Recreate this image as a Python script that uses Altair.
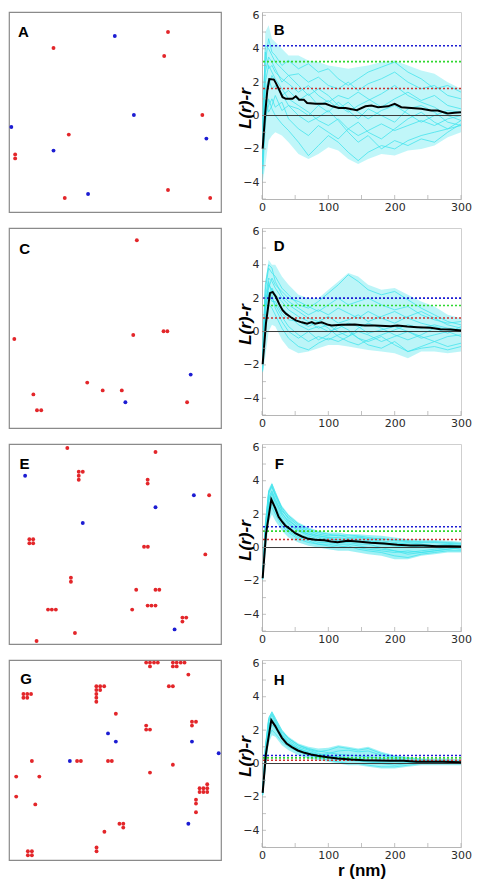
import altair as alt
import pandas as pd

# ---------------- colours ----------------
RED = "#e3262a"
BLUE = "#1c1cd2"
CYAN = "#3fe3ec"

# ---------------- point patterns (percent of field) ----------------
A_red_x = [75.0, 21.0, 73.2, 91.2, 28.2, 2.9, 2.9, 75.0, 26.3, 94.9]
A_red_y = [90.0, 82.0, 78.0, 48.5, 38.7, 28.8, 26.8, 11.0, 7.0, 7.0]
A_blue_x = [49.9, 58.9, 1.1, 93.1, 21.0, 37.3]
A_blue_y = [88.0, 48.5, 42.5, 36.7, 30.7, 9.0]

C_red_x = [60.3, 2.5, 58.6, 72.9, 74.7, 36.9, 11.5, 44.2, 53.2, 13.2, 15.2, 84.0]
C_red_y = [93.9, 44.5, 46.5, 48.4, 48.4, 22.7, 16.8, 18.8, 18.8, 8.9, 8.9, 12.9]
C_blue_x = [85.7, 54.9]
C_blue_y = [26.7, 12.9]

E_red_x = [27.5, 69.1, 32.9, 34.8, 32.9, 32.9, 65.4, 65.4, 94.4, 9.6, 11.4, 9.6, 11.4,
           63.7, 65.5, 92.6, 29.2, 29.2, 60.0, 69.1, 70.9, 18.4, 20.2, 22.1, 65.4, 67.2,
           69.1, 58.1, 81.8, 83.6, 81.8, 31.1, 13.0]
E_red_y = [98.0, 96.0, 86.1, 86.1, 84.1, 82.1, 82.1, 80.2, 74.4, 52.4, 52.4, 50.4, 50.4,
           48.6, 48.6, 44.8, 33.1, 31.1, 27.1, 27.1, 27.1, 17.2, 17.2, 17.2, 19.2, 19.2,
           19.2, 17.2, 13.2, 13.2, 11.2, 5.5, 1.5]
E_blue_x = [7.6, 87.2, 69.1, 34.8, 78.1]
E_blue_y = [84.1, 74.4, 68.4, 60.5, 7.3]

G_red_x = [64.7, 66.5, 68.4, 70.2, 66.5, 77.3, 79.1, 81.0, 82.8, 77.3, 79.1, 84.6,
           41.2, 43.0, 44.9, 41.2, 43.0, 41.2, 41.2, 41.2, 75.4, 77.3, 6.8, 8.6, 10.4,
           6.8, 8.6, 50.4, 86.3, 88.2, 86.3, 64.7, 64.7, 66.5, 10.8, 32.1, 33.9, 46.7,
           48.5, 77.3, 66.5, 3.4, 14.3, 93.5, 89.9, 91.7, 93.5, 89.9, 91.7, 93.5, 3.4,
           88.2, 88.2, 12.4, 88.2, 52.1, 53.9, 53.9, 45.0, 41.3, 41.3, 8.9, 10.8, 8.9, 10.8]
G_red_y = [98.7, 98.7, 98.7, 98.7, 96.8, 98.7, 98.7, 98.7, 98.7, 96.8, 96.8, 92.7,
           86.9, 86.9, 86.9, 85.0, 85.0, 83.0, 81.1, 79.1, 86.9, 86.9, 83.0, 83.0, 83.0,
           81.1, 81.1, 73.1, 69.1, 69.1, 67.2, 67.2, 65.2, 65.2, 49.5, 49.5, 49.5, 49.5,
           49.5, 47.6, 43.7, 41.7, 41.7, 37.9, 35.9, 35.9, 35.9, 34.0, 34.0, 34.0, 31.7,
           30.1, 28.2, 27.8, 23.9, 18.1, 18.1, 16.2, 14.1, 6.3, 4.4, 4.4, 4.4, 2.4, 2.4]
G_blue_x = [46.7, 50.4, 86.3, 98.9, 28.7, 84.6]
G_blue_y = [63.3, 59.2, 59.2, 53.4, 49.5, 18.1]

# panel letter positions (percent of field)
LEFT_LETTERS = ["A", "C", "E", "G"]
LEFT_LETTER_X = [6.8, 7.4, 7.3, 8.0]
LEFT_LETTER_Y = [89.8, 89.3, 89.9, 90.6]

# ---------------- L(r)-r curves ----------------
R = [1, 5, 10, 15, 20, 30, 40, 55, 70, 85, 100, 115, 130, 145, 160, 180, 200, 220, 240, 260, 280, 300]

# B
B_sims = [
    [-1.0, 4.2, 4.0, 3.6, 3.2, 2.8, 2.4, 2.5, 2.0, 2.3, 1.8, 1.6, 2.0, 1.5, 1.9, 2.2, 2.6, 2.0, 1.6, 1.8, 1.2, 1.0],
    [-2.5, 2.0, 3.0, 2.6, 2.2, 1.6, 1.0, 0.6, 0.2, -0.3, -0.6, -0.2, -0.8, -1.2, -0.9, -0.5, -0.9, -0.6, -0.3, -0.6, -0.2, 0.0],
    [-1.5, 3.2, 4.6, 3.8, 3.6, 3.0, 3.3, 2.8, 3.1, 2.6, 2.8, 2.2, 1.8, 2.2, 2.6, 2.9, 3.2, 2.6, 2.2, 1.6, 1.8, 1.4],
    [-3.5, -0.5, 1.0, 0.4, 0.0, -0.5, -0.9, -1.6, -2.4, -1.8, -1.2, -1.6, -2.2, -2.7, -2.2, -1.8, -2.0, -1.5, -1.2, -1.0, -0.8, -0.6],
    [-2.0, 1.5, 2.2, 1.6, 1.8, 1.2, 1.5, 0.9, 1.3, 0.6, 0.9, 0.4, 0.8, 0.2, -0.2, 0.3, 0.6, 0.1, -0.4, 0.0, 0.3, 0.2],
    [-3.0, 0.8, 1.8, 2.4, 2.0, 1.3, 0.6, 0.0, -0.4, -0.1, 0.3, -0.3, -1.0, -1.6, -1.2, -2.0, -1.5, -1.8, -1.4, -1.6, -1.0, -0.5],
    [-0.5, 3.8, 2.8, 3.0, 2.6, 2.2, 1.9, 1.4, 1.8, 1.2, 0.8, 1.2, 1.0, 1.4, 1.0, 0.5, 1.0, 1.4, 0.9, 1.2, 0.6, 0.4],
    [-2.8, 0.0, 0.6, 1.0, 0.5, 0.8, -0.2, -0.8, -1.2, -0.6, -1.0, -1.4, -0.8, -0.4, -1.0, -1.4, -0.8, -0.2, 0.2, -0.4, -0.8, -0.3],
    [-1.8, 2.6, 3.5, 3.2, 2.8, 2.0, 2.4, 1.8, 1.2, 1.6, 1.2, 0.6, 0.2, 0.6, 0.9, 1.3, 1.8, 1.2, 0.8, 0.5, 0.0, -0.3],
    [-3.2, 1.0, 0.2, 0.6, 1.2, 0.3, 0.6, 0.4, 0.0, 0.6, 0.2, 0.8, 0.3, -0.2, 0.4, 0.0, -0.4, 0.4, 0.6, 0.2, -0.4, -0.6],
]
B_upper = [0.5, 5.0, 5.4, 4.6, 4.4, 4.0, 3.6, 3.6, 3.3, 3.2, 3.0, 2.9, 2.8, 2.9, 3.0, 3.2, 3.3, 3.0, 2.7, 2.5, 2.0, 1.6]
B_lower = [-4.0, -3.0, -1.5, -1.2, -1.0, -1.2, -1.6, -2.3, -2.6, -2.3, -1.9, -2.1, -2.6, -2.9, -2.6, -2.3, -2.4, -2.1, -2.0, -1.8, -1.3, -1.0]
B_mean_r = [1, 5, 8, 11, 18, 21, 26, 31, 36, 46, 51, 56, 63, 68, 81, 96, 106, 116, 126, 143, 156, 165, 175, 190, 200, 210, 225, 240, 255, 265, 280, 290, 300]
B_mean_v = [-2.0, 0.2, 1.5, 2.18, 2.15, 1.94, 1.54, 1.1, 1.0, 1.0, 1.15, 0.95, 0.95, 0.75, 0.7, 0.7, 0.55, 0.45, 0.45, 0.32, 0.55, 0.6, 0.5, 0.55, 0.7, 0.5, 0.45, 0.4, 0.3, 0.3, 0.12, 0.16, 0.2]
B_thresholds = [4.18, 3.23, 1.62]

# D
D_sims = [
    [-1.5, 2.5, 3.8, 3.5, 3.3, 2.6, 2.2, 1.6, 1.4, 1.8, 2.3, 2.8, 3.4, 3.0, 2.5, 2.2, 2.4, 1.9, 1.4, 1.0, 0.6, 0.4],
    [-2.2, 1.2, 2.4, 2.0, 1.6, 0.9, 0.3, -0.2, -0.6, -0.3, -0.5, -0.2, 0.0, -0.4, -0.6, -0.3, -0.8, -1.2, -0.9, -0.6, -0.3, -0.2],
    [-1.8, 2.0, 3.2, 3.0, 2.6, 2.0, 1.6, 1.2, 0.8, 0.6, 0.9, 0.5, 0.7, 1.0, 0.6, 0.9, 1.2, 0.8, 0.5, 0.3, 0.1, 0.0],
    [-2.4, 0.8, 1.6, 1.4, 1.0, 0.2, -0.4, -0.9, -1.1, -0.7, -0.4, -0.6, -0.3, 0.0, -0.2, -0.6, -0.3, 0.0, -0.3, -0.6, -0.9, -0.7],
    [-1.2, 2.8, 4.0, 3.8, 3.0, 2.2, 1.8, 1.4, 1.0, 1.3, 1.0, 1.4, 1.1, 0.8, 1.2, 0.8, 0.5, 0.9, 1.2, 0.8, 0.4, 0.2],
    [-2.0, 1.6, 2.8, 2.5, 2.0, 1.4, 1.0, 0.4, 0.1, 0.3, 0.0, 0.2, 0.5, 0.3, -0.1, 0.1, 0.3, 0.0, -0.4, -0.2, 0.0, -0.3],
    [-1.6, 2.2, 2.0, 2.6, 2.2, 1.8, 1.3, 0.9, 0.6, 0.2, 0.4, 0.0, -0.3, 0.2, 0.5, 0.2, -0.2, -0.5, -0.2, 0.2, -0.1, 0.3],
    [-2.3, 1.0, 3.0, 2.2, 1.4, 0.6, 0.0, -0.4, 0.0, -0.5, -0.2, 0.4, 0.1, -0.4, -0.8, -1.0, -0.6, -1.2, -1.0, -0.9, -1.1, -0.9],
    [-1.9, 1.8, 2.6, 3.2, 2.8, 2.4, 2.0, 1.8, 1.5, 1.2, 1.6, 2.0, 1.6, 1.8, 2.0, 1.6, 1.3, 1.5, 1.0, 0.7, 0.5, 0.6],
    [-2.1, 1.4, 2.2, 1.8, 1.8, 1.1, 0.7, 0.6, 0.3, 0.6, 0.2, -0.3, -0.6, -0.8, -0.5, -0.2, 0.1, 0.4, 0.2, 0.4, 0.2, 0.1],
]
D_upper = [0.0, 3.0, 4.3, 4.0, 4.0, 3.3, 2.8, 2.2, 2.0, 2.0, 2.5, 3.0, 3.5, 3.3, 2.8, 2.5, 2.6, 2.2, 1.8, 1.5, 1.0, 0.8]
D_lower = [-2.5, -1.5, 0.0, 0.4, 0.3, -0.5, -1.0, -1.3, -1.2, -1.0, -0.8, -0.8, -0.9, -1.0, -1.1, -1.2, -1.3, -1.6, -1.2, -1.2, -1.3, -1.2]
D_mean_r = [1, 6, 12, 16, 21, 26, 31, 36, 43, 51, 60, 68, 75, 80, 90, 100, 105, 120, 140, 155, 170, 194, 204, 219, 234, 254, 269, 284, 300]
D_mean_v = [-1.96, 0.5, 2.3, 2.37, 2.08, 1.64, 1.28, 1.07, 0.87, 0.67, 0.55, 0.47, 0.57, 0.47, 0.55, 0.4, 0.36, 0.4, 0.42, 0.36, 0.36, 0.32, 0.36, 0.3, 0.26, 0.22, 0.14, 0.12, 0.06]
D_thresholds = [2.0, 1.56, 0.81]

# F
F_sims = [
    [-1.7, 1.2, 3.2, 3.7, 3.1, 2.2, 1.8, 1.3, 1.0, 0.8, 0.7, 0.75, 0.6, 0.65, 0.5, 0.55, 0.4, 0.35, 0.3, 0.35, 0.3, 0.25],
    [-1.9, 0.2, 2.2, 2.4, 2.0, 1.3, 0.9, 0.5, 0.3, 0.2, 0.1, 0.0, 0.1, -0.1, -0.2, -0.3, -0.5, -0.6, -0.4, -0.3, -0.2, -0.2],
    [-1.8, 0.8, 2.8, 3.2, 2.7, 1.9, 1.4, 1.0, 0.7, 0.5, 0.5, 0.4, 0.5, 0.4, 0.3, 0.2, 0.1, 0.0, 0.1, 0.0, 0.1, 0.0],
    [-1.6, 1.4, 3.4, 3.6, 3.2, 2.4, 1.9, 1.4, 1.1, 0.9, 0.8, 0.7, 0.75, 0.7, 0.6, 0.5, 0.45, 0.4, 0.35, 0.3, 0.25, 0.2],
    [-1.9, 0.5, 2.5, 2.9, 2.3, 1.6, 1.1, 0.7, 0.5, 0.3, 0.3, 0.2, 0.2, 0.1, 0.0, -0.1, -0.2, -0.3, -0.2, -0.1, 0.0, -0.1],
    [-1.8, 1.0, 3.0, 3.4, 2.9, 2.0, 1.6, 1.2, 0.9, 0.7, 0.6, 0.6, 0.5, 0.6, 0.5, 0.4, 0.3, 0.2, 0.2, 0.1, 0.2, 0.1],
    [-1.7, 0.6, 2.6, 3.0, 2.5, 1.7, 1.2, 0.8, 0.6, 0.4, 0.4, 0.3, 0.3, 0.2, 0.2, 0.0, -0.2, -0.4, -0.3, -0.2, -0.1, 0.0],
    [-1.9, 1.3, 3.3, 3.8, 3.3, 2.3, 1.7, 1.1, 0.8, 0.6, 0.5, 0.5, 0.4, 0.3, 0.4, 0.3, 0.2, 0.1, 0.0, 0.1, 0.0, 0.05],
    [-1.8, 0.3, 2.0, 2.6, 2.2, 1.5, 1.0, 0.6, 0.4, 0.2, 0.2, 0.1, 0.0, 0.0, -0.1, -0.2, -0.3, -0.2, -0.3, -0.2, -0.1, 0.0],
    [-1.8, 0.9, 2.9, 3.3, 2.8, 2.1, 1.5, 1.0, 0.8, 0.7, 0.6, 0.4, 0.4, 0.5, 0.4, 0.3, 0.2, 0.3, 0.2, 0.1, 0.15, 0.1],
]
F_upper = [-1.5, 1.5, 3.5, 3.9, 3.4, 2.5, 2.0, 1.5, 1.2, 1.0, 0.9, 0.9, 0.8, 0.8, 0.75, 0.7, 0.6, 0.5, 0.5, 0.45, 0.4, 0.35]
F_lower = [-2.0, -0.5, 1.5, 2.0, 1.6, 1.0, 0.6, 0.3, 0.1, 0.0, -0.1, -0.2, -0.2, -0.3, -0.4, -0.5, -0.7, -0.7, -0.5, -0.4, -0.3, -0.3]
F_mean_r = [1, 6, 14, 20, 25, 30, 35, 42, 50, 60, 70, 80, 94, 104, 114, 129, 144, 164, 184, 204, 224, 243, 263, 283, 300]
F_mean_v = [-1.84, 0.8, 2.88, 2.36, 1.84, 1.56, 1.32, 1.12, 0.86, 0.66, 0.52, 0.46, 0.44, 0.36, 0.32, 0.4, 0.36, 0.28, 0.24, 0.16, 0.12, 0.12, 0.08, 0.08, 0.06]
F_thresholds = [1.24, 0.98, 0.48]

# H
H_sims = [
    [-1.6, 0.9, 2.6, 3.0, 2.6, 1.9, 1.5, 1.1, 0.85, 0.7, 0.8, 1.0, 0.9, 0.8, 0.9, 0.6, 0.4, 0.3, 0.25, 0.2, 0.2, 0.15],
    [-1.9, -0.2, 1.6, 2.0, 1.8, 1.3, 1.0, 0.7, 0.5, 0.35, 0.2, 0.1, 0.0, 0.0, -0.1, -0.2, -0.2, -0.1, 0.0, 0.0, 0.0, 0.0],
    [-1.7, 0.6, 2.3, 2.7, 2.4, 1.7, 1.3, 0.9, 0.7, 0.55, 0.45, 0.4, 0.35, 0.3, 0.25, 0.2, 0.15, 0.15, 0.1, 0.1, 0.1, 0.1],
    [-1.8, 0.4, 2.0, 2.5, 2.2, 1.6, 1.2, 0.85, 0.6, 0.5, 0.6, 0.75, 0.8, 0.7, 0.75, 0.5, 0.3, 0.2, 0.15, 0.1, 0.1, 0.05],
    [-1.7, 0.8, 2.5, 2.9, 2.5, 1.8, 1.4, 1.0, 0.8, 0.6, 0.5, 0.4, 0.3, 0.2, 0.1, 0.0, -0.1, 0.0, 0.05, 0.0, 0.05, 0.0],
    [-1.9, 0.1, 1.9, 2.3, 2.1, 1.5, 1.1, 0.8, 0.55, 0.4, 0.3, 0.25, 0.2, 0.15, 0.1, 0.05, 0.0, 0.05, 0.1, 0.05, 0.0, 0.0],
    [-1.6, 1.0, 2.7, 3.1, 2.7, 2.0, 1.5, 1.1, 0.9, 0.75, 0.65, 0.55, 0.5, 0.45, 0.4, 0.3, 0.25, 0.2, 0.2, 0.15, 0.15, 0.1],
    [-1.8, 0.5, 2.2, 2.6, 2.3, 1.7, 1.2, 0.9, 0.65, 0.5, 0.4, 0.35, 0.3, 0.2, 0.2, 0.1, 0.1, 0.1, 0.0, 0.05, 0.1, 0.05],
]
H_upper = [-1.3, 1.2, 2.8, 3.1, 2.8, 2.0, 1.6, 1.2, 1.0, 0.9, 0.95, 1.1, 1.0, 0.9, 1.0, 0.7, 0.5, 0.4, 0.3, 0.3, 0.3, 0.25]
H_lower = [-2.0, -0.5, 1.2, 1.7, 1.6, 1.1, 0.8, 0.5, 0.3, 0.2, 0.1, 0.0, -0.1, -0.1, -0.2, -0.3, -0.3, -0.2, -0.1, -0.1, -0.1, -0.1]
H_mean_r = [1, 6, 14, 20, 25, 30, 37, 45, 54, 64, 74, 84, 99, 114, 134, 153, 173, 193, 213, 233, 252, 272, 300]
H_mean_v = [-1.76, 0.6, 2.6, 2.24, 1.88, 1.54, 1.2, 0.98, 0.78, 0.64, 0.54, 0.46, 0.38, 0.3, 0.24, 0.2, 0.18, 0.16, 0.16, 0.1, 0.1, 0.1, 0.08]
H_thresholds = [0.48, 0.34, 0.2]

RIGHT_LETTERS = ["B", "D", "F", "H"]
RIGHT_LETTER_R = [26, 26, 26, 26]
RIGHT_LETTER_V = [5.1, 5.1, 5.0, 5.0]

THRESH_COLORS = [BLUE, "#2fd82f", "#cc3030"]
X_LABELS = [0, 100, 200, 300]
Y_LABELS = [-4, -2, 0, 2, 4, 6]
X_MINOR = [0, 50, 100, 150, 200, 250, 300]
Y_MINOR = [-5, -4, -3, -2, -1, 0, 1, 2, 3, 4, 5, 6]

BOX_W, BOX_H = 212, 200
PLOT_W, PLOT_H = 199, 187


def field_panel(letter, lx, ly, rx, ry, bx, by):
    xs = alt.Scale(domain=[0, 100], nice=False, zero=False)
    ys = alt.Scale(domain=[0, 100], nice=False, zero=False)
    red = alt.Chart(pd.DataFrame({"x": rx, "y": ry})).mark_circle(
        size=15, opacity=1, color=RED).encode(
        x=alt.X("x:Q", scale=xs, axis=None), y=alt.Y("y:Q", scale=ys, axis=None))
    blue = alt.Chart(pd.DataFrame({"x": bx, "y": by})).mark_circle(
        size=15, opacity=1, color=BLUE).encode(
        x=alt.X("x:Q", scale=xs, axis=None), y=alt.Y("y:Q", scale=ys, axis=None))
    txt = alt.Chart(pd.DataFrame({"x": [lx], "y": [ly], "t": [letter]})).mark_text(
        font="Liberation Sans", fontSize=15, fontWeight="bold", color="black").encode(
        x=alt.X("x:Q", scale=xs, axis=None), y=alt.Y("y:Q", scale=ys, axis=None), text="t:N")
    return alt.layer(red, blue, txt).properties(
        width=BOX_W, height=BOX_H,
        view=alt.ViewBackground(stroke="#8a8a8a", strokeWidth=1.2))


def curve_panel(letter, lr, lv, sims, upper, lower, mr, mv, thr, xtitle, band_opacity):
    xs = alt.Scale(domain=[0, 300], nice=False, zero=False)
    ys = alt.Scale(domain=[-5, 6.2], nice=False, zero=False)
    xaxis_kw = dict(values=X_LABELS, labelPadding=2, labelFlush=False, grid=False,
                    ticks=False, domainColor="#b5b5b5", labelFont="DejaVu Sans",
                    labelFontSize=11, labelColor="#2a2a2a")
    if xtitle:
        xaxis = alt.Axis(title=xtitle, titleFont="Liberation Sans", titleFontSize=17,
                         titleFontWeight="bold", titleColor="black", titlePadding=2,
                         **xaxis_kw)
    else:
        xaxis = alt.Axis(title=None, **xaxis_kw)
    yaxis = alt.Axis(values=Y_LABELS, title="L(r)-r", titleFont="Liberation Sans",
                     titleFontSize=17, titleFontWeight="bold", titleFontStyle="italic",
                     titleColor="black", titleX=-12, titleY=96, titleAngle=270,
                     titleAlign="center", titleBaseline="alphabetic", labelFlush=False,
                     labelPadding=3, grid=False, ticks=False, domainColor="#b5b5b5",
                     labelFont="DejaVu Sans", labelFontSize=11, labelColor="#2a2a2a")

    def X(f):
        return alt.X(f, scale=xs, axis=xaxis)

    def Y(f):
        return alt.Y(f, scale=ys, axis=yaxis)

    env = pd.DataFrame({"r": R, "lo": lower, "hi": upper})
    area = alt.Chart(env).mark_area(color=CYAN, opacity=band_opacity).encode(
        x=X("r:Q"), y=Y("lo:Q"), y2="hi:Q")

    rows = [{"r": r, "v": v, "sim": i} for i, s in enumerate(sims) for r, v in zip(R, s)]
    lines = alt.Chart(pd.DataFrame(rows)).mark_line(
        color=CYAN, strokeWidth=0.8, opacity=0.95).encode(
        x=X("r:Q"), y=Y("v:Q"), detail="sim:N")

    zero = alt.Chart(pd.DataFrame({"v": [0]})).mark_rule(
        color="#3a3a3a", strokeWidth=1).encode(y=Y("v:Q"))

    dashed = []
    for val, col in zip(thr, THRESH_COLORS):
        dashed.append(alt.Chart(pd.DataFrame({"v": [val]})).mark_rule(
            color=col, strokeWidth=1.6, strokeDash=[2, 2]).encode(y=Y("v:Q")))

    mean = alt.Chart(pd.DataFrame({"r": mr, "v": mv})).mark_line(
        color="black", strokeWidth=2).encode(x=X("r:Q"), y=Y("v:Q"))

    yt = alt.Chart(pd.DataFrame({"v": Y_MINOR, "r": [0] * len(Y_MINOR)})).mark_tick(
        orient="horizontal", size=4, thickness=1, color="#a8a8a8", xOffset=2).encode(
        x=X("r:Q"), y=Y("v:Q"))
    xt = alt.Chart(pd.DataFrame({"r": X_MINOR, "v": [-5] * len(X_MINOR)})).mark_tick(
        orient="vertical", size=4, thickness=1, color="#a8a8a8", yOffset=-2).encode(
        x=X("r:Q"), y=Y("v:Q"))

    txt = alt.Chart(pd.DataFrame({"r": [lr], "v": [lv], "t": [letter]})).mark_text(
        font="Liberation Sans", fontSize=15, fontWeight="bold", color="black").encode(
        x=X("r:Q"), y=Y("v:Q"), text="t:N")

    return alt.layer(area, lines, zero, *dashed, mean, yt, xt, txt).properties(
        width=PLOT_W, height=PLOT_H,
        view=alt.ViewBackground(stroke="#cfcfcf", strokeWidth=1))


fields = [
    (A_red_x, A_red_y, A_blue_x, A_blue_y),
    (C_red_x, C_red_y, C_blue_x, C_blue_y),
    (E_red_x, E_red_y, E_blue_x, E_blue_y),
    (G_red_x, G_red_y, G_blue_x, G_blue_y),
]
curves = [
    (B_sims, B_upper, B_lower, B_mean_r, B_mean_v, B_thresholds),
    (D_sims, D_upper, D_lower, D_mean_r, D_mean_v, D_thresholds),
    (F_sims, F_upper, F_lower, F_mean_r, F_mean_v, F_thresholds),
    (H_sims, H_upper, H_lower, H_mean_r, H_mean_v, H_thresholds),
]
BAND_OPACITY = [0.33, 0.35, 0.5, 0.5]

panels = []
for i in range(4):
    rx, ry, bx, by = fields[i]
    panels.append(field_panel(LEFT_LETTERS[i], LEFT_LETTER_X[i], LEFT_LETTER_Y[i], rx, ry, bx, by))
    sims, up, lo, mr, mv, thr = curves[i]
    panels.append(curve_panel(RIGHT_LETTERS[i], RIGHT_LETTER_R[i], RIGHT_LETTER_V[i],
                              sims, up, lo, mr, mv, thr, "r (nm)" if i == 3 else "",
                              BAND_OPACITY[i]))

chart = alt.concat(*panels, columns=2, bounds="flush",
                   spacing=alt.RowColnumber(row=16, column=41)).properties(
    padding=0, background="white"
).configure_view(stroke="#cfcfcf")

chart.save("out.html", embed_options={"renderer": "svg", "actions": False})
